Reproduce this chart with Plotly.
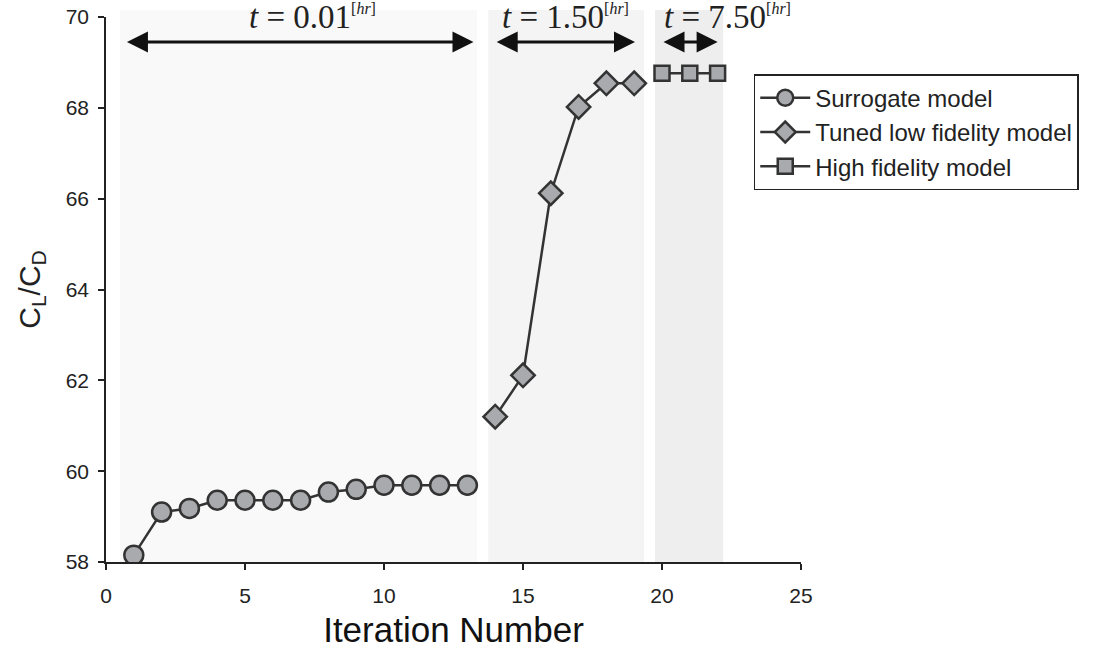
import plotly.graph_objects as go

# ---- data ----
surrogate_x = [1, 2, 3, 4, 5, 6, 7, 8, 9, 10, 11, 12, 13]
surrogate_y = [58.15, 59.10, 59.18, 59.36, 59.36, 59.36, 59.36, 59.54, 59.60, 59.69, 59.69, 59.69, 59.69]
tuned_x = [14, 15, 16, 17, 18, 19]
tuned_y = [61.20, 62.11, 66.12, 68.02, 68.54, 68.54]
high_x = [20, 21, 22]
high_y = [68.76, 68.76, 68.76]

series_names = ["Surrogate model", "Tuned low fidelity model", "High fidelity model"]
phase_labels = ["0.01", "1.50", "7.50"]
phase_spans = [(0.5, 13.35), (13.75, 19.35), (19.75, 22.2)]
phase_colors = ["#f9f9f9", "#f4f4f4", "#eeeeee"]
arrow_spans = [(0.7, 13.22), (14.0, 19.03), (20.0, 22.0)]
label_x = [5.07, 14.18, 20.0]

x_ticks = [0, 5, 10, 15, 20, 25]
y_ticks = [58, 60, 62, 64, 66, 68, 70]

fill = "#a9aaae"
edge = "#333333"

fig = go.Figure()

fig.add_trace(go.Scatter(
    x=surrogate_x, y=surrogate_y, name=series_names[0], mode="lines+markers",
    line=dict(color=edge, width=2.5),
    marker=dict(symbol="circle", size=19, color=fill, line=dict(color=edge, width=2.5)),
))
fig.add_trace(go.Scatter(
    x=tuned_x, y=tuned_y, name=series_names[1], mode="lines+markers",
    line=dict(color=edge, width=2.5),
    marker=dict(symbol="diamond", size=18, color=fill, line=dict(color=edge, width=2.5)),
))
fig.add_trace(go.Scatter(
    x=high_x, y=high_y, name=series_names[2], mode="lines+markers",
    line=dict(color=edge, width=2.5),
    marker=dict(symbol="square", size=15, color=fill, line=dict(color=edge, width=2.5)),
))

shapes = []
for (a, b), c in zip(phase_spans, phase_colors):
    shapes.append(dict(type="rect", xref="x", yref="paper", x0=a, x1=b, y0=0, y1=1.013,
                       fillcolor=c, line=dict(width=0), layer="below"))

annotations = []
arrow_y = 69.45
for (a, b) in arrow_spans:
    annotations.append(dict(
        x=b, y=arrow_y, ax=a, ay=arrow_y, xref="x", yref="y", axref="x", ayref="y",
        text="", showarrow=True, arrowside="end+start", arrowhead=2, startarrowhead=2,
        arrowsize=1.4, startarrowsize=1.4, arrowwidth=3, arrowcolor="#111111",
        standoff=0, startstandoff=0,
    ))
for lx, lab in zip(label_x, phase_labels):
    annotations.append(dict(
        x=lx, y=1.0, xref="x", yref="paper", xanchor="left", yanchor="middle",
        text="<i>t</i> = " + lab + "<sup><span style='font-size:16px'>[<i>hr</i>]</span></sup>",
        showarrow=False,
        font=dict(family="Liberation Serif, DejaVu Serif, serif", size=33, color="#222222"),
    ))

fig.update_layout(
    width=1102, height=655,
    margin=dict(l=106, r=301, t=17, b=93, autoexpand=False),
    paper_bgcolor="white", plot_bgcolor="white",
    font=dict(family="Liberation Sans, Arial, Helvetica, sans-serif", size=21, color="#222222"),
    shapes=shapes, annotations=annotations,
    showlegend=True,
    legend=dict(x=0.932, y=0.895, xanchor="left", yanchor="top",
                bgcolor="white", bordercolor="#222222", borderwidth=1.5,
                itemwidth=50,
                font=dict(size=24, color="#222222"), tracegroupgap=0),
    xaxis=dict(range=[0, 25], tickvals=x_ticks, ticks="outside", ticklen=6, tickwidth=1.5,
               tickcolor="#222222", showline=True, linecolor="#222222", linewidth=1.5,
               showgrid=False, zeroline=False, automargin=False, ticklabelstandoff=8,
               title=dict(text="Iteration Number", font=dict(size=35, color="#111111"), standoff=12),
               tickfont=dict(size=21)),
    yaxis=dict(range=[58, 70], tickvals=y_ticks, ticks="outside", ticklen=6, tickwidth=1.5,
               tickcolor="#222222", showline=True, linecolor="#222222", linewidth=1.5,
               showgrid=False, zeroline=False, automargin=False, ticklabelstandoff=5,
               title=dict(text="C<sub>L</sub>/C<sub>D</sub>", font=dict(size=30, color="#222222"), standoff=16),
               tickfont=dict(size=21)),
)

fig.write_html("out.html", config={"displayModeBar": False},
               post_script="document.body.style.margin='0px';")
